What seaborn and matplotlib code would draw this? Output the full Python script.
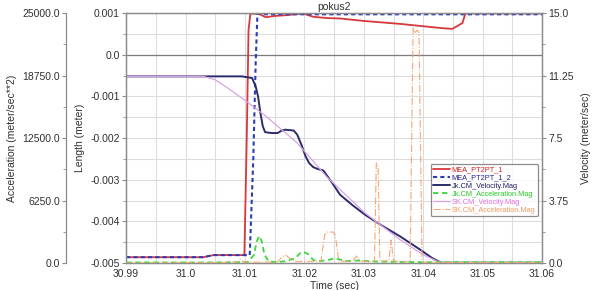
import numpy as np
import matplotlib
matplotlib.use("Agg")
import matplotlib.pyplot as plt
from matplotlib.ticker import MultipleLocator, FixedLocator, FixedFormatter
import seaborn as sns

# ---------------------------------------------------------------------------
# Data
# ---------------------------------------------------------------------------
# Length (meter), left inner axis
t_mea1 = [30.99, 31.003, 31.0047, 31.0099, 31.0103, 31.0106, 31.0109, 31.0112,
          31.0125, 31.0135, 31.015, 31.017, 31.0198, 31.0215, 31.0238, 31.026,
          31.03, 31.0361, 31.043, 31.0449, 31.0466, 31.0471, 31.06]
len_mea1 = [-0.00486, -0.00486, -0.00481, -0.00481, -0.0020, 0.0006, 0.00097, 0.00099,
            0.00097, 0.00090, 0.00093, 0.00095, 0.00099, 0.00091, 0.00088, 0.00087,
            0.00081, 0.00074, 0.00064, 0.00062, 0.00076, 0.00099, 0.00099]

t_mea2 = [30.99, 31.003, 31.0047, 31.0108, 31.0114, 31.0118, 31.0121, 31.0135, 31.06]
len_mea2 = [-0.00486, -0.00486, -0.00481, -0.00481, -0.0025, -0.0002, 0.00099,
            0.00097, 0.00097]

# Velocity (meter/sec), right axis
t_jk_vel = [30.99, 31.0095, 31.0112, 31.0118, 31.0122, 31.0126, 31.0130, 31.0134,
            31.0145, 31.0155, 31.0162, 31.0168, 31.0182, 31.0188, 31.0195, 31.0202,
            31.0208, 31.0215, 31.0222, 31.0232, 31.0245, 31.026, 31.028, 31.0302,
            31.0328, 31.0361, 31.0395, 31.0415, 31.043, 31.06]
jk_vel = [11.2, 11.2, 11.1, 10.6, 10.0, 9.0, 8.2, 7.85,
          7.8, 7.8, 7.95, 8.0, 7.95, 7.7, 7.1, 6.4,
          6.0, 5.75, 5.65, 5.55, 4.9, 4.1, 3.5, 2.9,
          2.3, 1.6, 0.8, 0.3, 0.02, 0.02]

t_sk_vel = [30.99, 31.003, 31.005, 31.0075, 31.0104, 31.0137, 31.0188, 31.0238,
            31.0302, 31.0361, 31.040, 31.0429, 31.06]
sk_vel = [11.2, 11.2, 11.0, 10.4, 9.66, 8.76, 7.2, 5.16, 3.0, 1.4, 0.5, 0.02, 0.02]

# Acceleration (meter/sec**2), left outer axis
t_jk_acc = [30.99, 31.005, 31.0105, 31.0115, 31.012, 31.0124, 31.0128, 31.0133,
            31.014, 31.0155, 31.017, 31.0185, 31.0193, 31.0199, 31.0206, 31.0215,
            31.0228, 31.0243, 31.025, 31.0258, 31.0272, 31.029, 31.032, 31.036,
            31.04, 31.06]
jk_acc = [60, 60, 100, 800, 2200, 2700, 2200, 800,
          150, 100, 200, 500, 1000, 1100, 900, 300,
          200, 350, 450, 380, 200, 250, 150, 120,
          80, 80]

t_sk_acc = [30.99, 31.006, 31.0088, 31.0092, 31.0097, 31.011, 31.0155, 31.0162,
            31.0168, 31.0175, 31.0185, 31.0228, 31.0234, 31.0238, 31.0248, 31.0252,
            31.0258, 31.027, 31.0282, 31.0288, 31.0295, 31.031, 31.0318, 31.0321,
            31.0324, 31.0327, 31.0342, 31.0346, 31.035, 31.0378, 31.0383, 31.0386,
            31.039, 31.0393, 31.0398, 31.045, 31.06]
sk_acc = [0, 50, 100, 400, 100, 80, 100, 600,
          800, 500, 150, 200, 2800, 3100, 3100, 2800,
          200, 150, 300, 700, 200, 150, 200, 10000,
          9800, 200, 200, 2300, 200, 100, 23500, 23000,
          23300, 23000, 100, 50, 50]

x_ticks = [30.99, 31.0, 31.01, 31.02, 31.03, 31.04, 31.05, 31.06]
x_tick_labels = ["30.99", "31.0", "31.01", "31.02", "31.03", "31.04", "31.05", "31.06"]
len_ticks = [-0.005, -0.004, -0.003, -0.002, -0.001, 0.0, 0.001]
len_tick_labels = ["-0.005", "-0.004", "-0.003", "-0.002", "-0.001", "0.0", "0.001"]
vel_ticks = [0.0, 3.75, 7.5, 11.25, 15.0]
vel_tick_labels = ["0.0", "3.75", "7.5", "11.25", "15.0"]
acc_ticks = [0.0, 6250.0, 12500.0, 18750.0, 25000.0]
acc_tick_labels = ["0.0", "6250.0", "12500.0", "18750.0", "25000.0"]

# ---------------------------------------------------------------------------
# Styling
# ---------------------------------------------------------------------------
sns.set_style("white")
plt.rcParams['font.family'] = ['Liberation Sans', 'DejaVu Sans']
plt.rcParams['font.size'] = 7.5

spine_col = "#8c8c8c"
grid_col = "#dcdcdc"
text_col = "#303030"

fig = plt.figure(figsize=(5.95, 2.9), dpi=100)
ax = fig.add_axes([0.212, 0.093, 0.699, 0.862])
ax_v = ax.twinx()
ax_a = ax.twinx()

# Length
sns.lineplot(x=t_mea1, y=len_mea1, ax=ax, color="#d8383c", lw=1.3,
             estimator=None, sort=False, label="MEA_PT2PT_1", legend=False)
sns.lineplot(x=t_mea2, y=len_mea2, ax=ax, color="#2a3cb8", lw=1.5, linestyle=(0, (2, 1.5)),
             estimator=None, sort=False, label="MEA_PT2PT_1_2", legend=False)

# Velocity
sns.lineplot(x=t_jk_vel, y=jk_vel, ax=ax_v, color="#2c2c6c", lw=1.4,
             estimator=None, sort=False, label="Jk.CM_Velocity.Mag", legend=False)
sns.lineplot(x=t_sk_vel, y=sk_vel, ax=ax_v, color="#d8a4e2", lw=0.9,
             estimator=None, sort=False, label="SK.CM_Velocity.Mag", legend=False)

# Acceleration
sns.lineplot(x=t_jk_acc, y=jk_acc, ax=ax_a, color="#3ed63e", lw=1.3, linestyle=(0, (3, 2)),
             estimator=None, sort=False, label="Jk.CM_Acceleration.Mag", legend=False)
sns.lineplot(x=t_sk_acc, y=sk_acc, ax=ax_a, color="#f2a878", lw=0.8, linestyle="-.",
             estimator=None, sort=False, label="SK.CM_Acceleration.Mag", legend=False)

# Axes ranges and ticks
ax.set_xlim(30.99, 31.06)
ax.set_ylim(-0.005, 0.001)
ax_v.set_ylim(0, 15)
ax_a.set_ylim(0, 25000)

ax.xaxis.set_major_locator(FixedLocator(x_ticks))
ax.xaxis.set_major_formatter(FixedFormatter(x_tick_labels))
ax.xaxis.set_minor_locator(MultipleLocator(0.005))
ax.yaxis.set_major_locator(FixedLocator(len_ticks))
ax.yaxis.set_major_formatter(FixedFormatter(len_tick_labels))
ax.yaxis.set_minor_locator(MultipleLocator(0.0005))
ax_v.yaxis.set_major_locator(FixedLocator(vel_ticks))
ax_v.yaxis.set_major_formatter(FixedFormatter(vel_tick_labels))
ax_v.yaxis.set_minor_locator(MultipleLocator(1.875))
ax_a.yaxis.set_major_locator(FixedLocator(acc_ticks))
ax_a.yaxis.set_major_formatter(FixedFormatter(acc_tick_labels))
ax_a.yaxis.set_minor_locator(MultipleLocator(3125))

ax.grid(True, which="both", color=grid_col, lw=0.8)
ax.set_axisbelow(True)
ax.axhline(0.0, color="#7c7c7c", lw=0.9, zorder=1)

# outer acceleration axis on the left
ax_a.yaxis.set_ticks_position("left")
ax_a.yaxis.set_label_position("left")
ax_a.spines["left"].set_position(("outward", 43))
for name in ["right", "top", "bottom"]:
    ax_a.spines[name].set_visible(False)
ax_a.spines["left"].set_visible(True)

for a in (ax, ax_v, ax_a):
    for s in a.spines.values():
        s.set_color(spine_col)
        s.set_linewidth(0.9)
    a.tick_params(which="major", length=3, width=0.8, color=spine_col,
                  labelcolor=text_col, labelsize=7.5, pad=1.5)
    a.tick_params(which="minor", length=2, width=0.6, color=spine_col)

ax.set_title("pokus2", fontsize=7.5, color=text_col, pad=2)
ax.set_xlabel("Time (sec)", fontsize=7.5, color=text_col, labelpad=1)
ax.set_ylabel("Length (meter)", fontsize=7.5, color=text_col, labelpad=4)
ax_v.set_ylabel("Velocity (meter/sec)", fontsize=7.5, color=text_col, labelpad=5)
ax_a.set_ylabel("Acceleration (meter/sec**2)", fontsize=7.5, color=text_col, labelpad=4)

# Legend gathered from all three axes
handles, labels = [], []
for a in (ax, ax_v, ax_a):
    h, l = a.get_legend_handles_labels()
    handles += h
    labels += l
order = [0, 1, 2, 4, 3, 5]
handles = [handles[i] for i in order]
labels = [labels[i] for i in order]
leg = ax_a.legend(handles, labels, loc="upper left", bbox_to_anchor=(0.724, 0.435),
                  bbox_transform=fig.transFigure, fontsize=5.3, frameon=True,
                  handlelength=2.3, handletextpad=0.2, labelspacing=0.12,
                  borderpad=0.35, borderaxespad=0, fancybox=True)
leg.get_frame().set_edgecolor("#707070")
leg.get_frame().set_linewidth(0.9)
text_colors = ["#d02020", "#202090", "#202060", "#22cc22", "#e070e0", "#f09a60"]
for txt, c in zip(leg.get_texts(), text_colors):
    txt.set_color(c)

fig.savefig("out.png", dpi=100)
